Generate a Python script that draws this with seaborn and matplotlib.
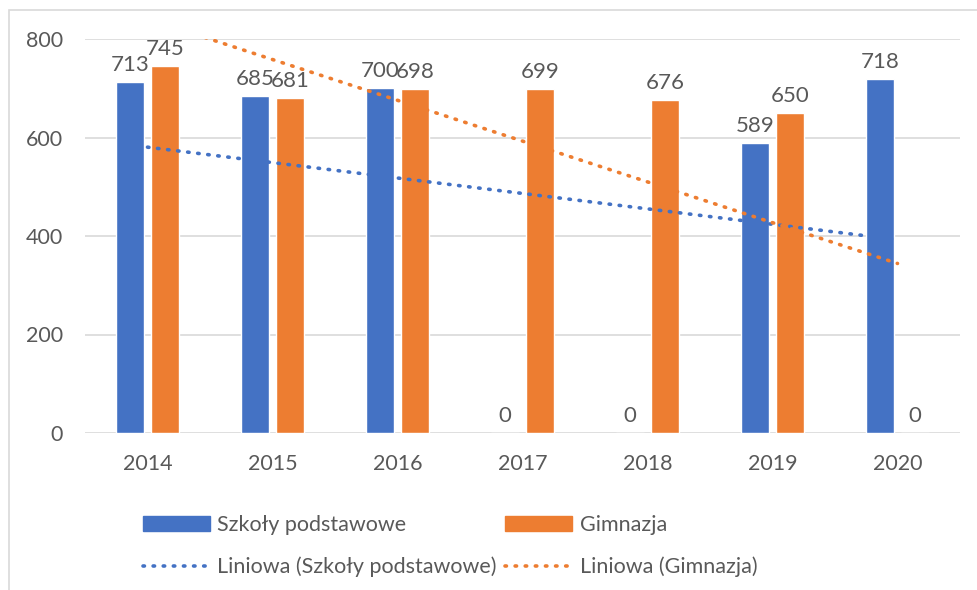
import numpy as np
import pandas as pd
import matplotlib.pyplot as plt
import seaborn as sns
from matplotlib.lines import Line2D
from matplotlib.patches import Patch, Rectangle

years = ['2014', '2015', '2016', '2017', '2018', '2019', '2020']
szkoly = [713, 685, 700, 0, 0, 589, 718]
gimnazja = [745, 681, 698, 699, 676, 650, 0]
series = ['Szkoły podstawowe', 'Gimnazja']
colors = ['#4472C4', '#ED7D31']

sns.set_theme(style='white')
plt.rcParams['font.family'] = ['Lato', 'DejaVu Sans']
txt = '#595959'
dots = (0, (0.4, 2.4))

df = pd.DataFrame({
    'rok': years * 2,
    'wartosc': szkoly + gimnazja,
    'seria': [series[0]] * len(years) + [series[1]] * len(years),
})

fig, ax = plt.subplots(figsize=(9.78, 5.90), dpi=100)
fig.subplots_adjust(left=85 / 978, right=960 / 978, top=1 - 39 / 590, bottom=1 - 433 / 590)

sns.barplot(data=df, x='rok', y='wartosc', hue='seria', palette=colors,
            width=0.56, gap=0.2, saturation=1, ax=ax, legend=False)

for cont in ax.containers:
    ax.bar_label(cont, fmt='%d', padding=5, fontsize=16, color=txt)

# linear trend lines like in Excel (x = 1..n)
xs = np.arange(1, len(years) + 1)
for vals, c in zip([szkoly, gimnazja], colors):
    a, b = np.polyfit(xs, vals, 1)
    ax.plot(xs - 1, a * xs + b, color=c, lw=2.6, linestyle=dots,
            dash_capstyle='round', clip_on=True)

ax.set_ylim(0, 800)
ax.set_xlim(-0.5, len(years) - 0.5)
ax.set_yticks([0, 200, 400, 600, 800])
ax.yaxis.grid(True, color='#D9D9D9', lw=1.2)
ax.set_axisbelow(True)
for s in ax.spines.values():
    s.set_visible(False)
ax.tick_params(axis='both', length=0, labelsize=15.5, labelcolor=txt)
ax.tick_params(axis='y', pad=16)
ax.tick_params(axis='x', pad=15)
ax.set_xlabel('')
ax.set_ylabel('')

handles = [
    Patch(color=colors[0]),
    Line2D([], [], color=colors[0], lw=2.6, linestyle=dots, dash_capstyle='round'),
    Patch(color=colors[1]),
    Line2D([], [], color=colors[1], lw=2.6, linestyle=dots, dash_capstyle='round'),
]
labels = [series[0], 'Liniowa (Szkoły podstawowe)', series[1], 'Liniowa (Gimnazja)']
fig.legend(handles, labels, ncol=2, loc='upper left', bbox_to_anchor=(128 / 978, 1 - 500 / 590),
           frameon=False, fontsize=15.5, labelcolor=txt, handlelength=3.1, handleheight=0.65,
           handletextpad=0.35, columnspacing=0.4, labelspacing=1.0, borderpad=0.2)

fig.patches.append(Rectangle((9 / 978, -0.1), 1.2, 1.1 - 10 / 590, transform=fig.transFigure,
                             fill=False, edgecolor='#D9D9D9', lw=1.2))

fig.savefig('out.png', dpi=100)
